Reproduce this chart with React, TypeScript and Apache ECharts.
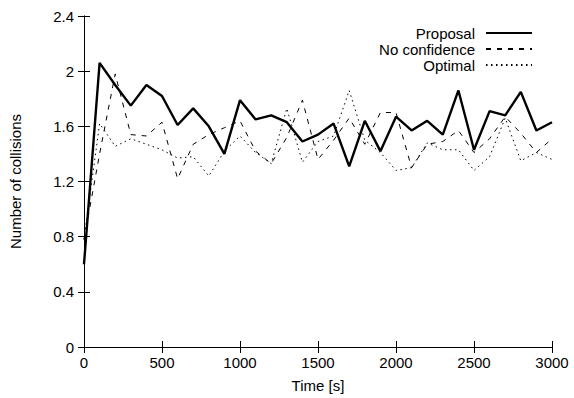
import React, { useEffect, useRef } from "react";
import * as echarts from "echarts";

const times = [0, 100, 200, 300, 400, 500, 600, 700, 800, 900, 1000, 1100, 1200, 1300, 1400, 1500, 1600, 1700, 1800, 1900, 2000, 2100, 2200, 2300, 2400, 2500, 2600, 2700, 2800, 2900, 3000];
const proposal = [0.6, 2.06, 1.9, 1.75, 1.9, 1.82, 1.61, 1.73, 1.6, 1.4, 1.79, 1.65, 1.68, 1.63, 1.49, 1.54, 1.62, 1.31, 1.64, 1.42, 1.67, 1.57, 1.64, 1.54, 1.86, 1.43, 1.71, 1.68, 1.85, 1.57, 1.63];
const noConfidence = [0.78, 1.4, 1.98, 1.54, 1.53, 1.63, 1.22, 1.47, 1.54, 1.59, 1.64, 1.42, 1.33, 1.52, 1.79, 1.36, 1.5, 1.66, 1.47, 1.7, 1.7, 1.3, 1.47, 1.49, 1.57, 1.41, 1.51, 1.67, 1.55, 1.41, 1.51];
const optimal = [0.78, 1.62, 1.455, 1.51, 1.47, 1.43, 1.37, 1.38, 1.24, 1.42, 1.53, 1.41, 1.33, 1.73, 1.34, 1.49, 1.53, 1.86, 1.5, 1.41, 1.28, 1.3, 1.48, 1.43, 1.43, 1.28, 1.38, 1.66, 1.35, 1.41, 1.36];
const seriesNames = ["Proposal", "No confidence", "Optimal"];

const FONT = "'Liberation Sans', Arial, sans-serif";
const FS = 15;

export default function App() {
  const ref = useRef<HTMLDivElement>(null);
  useEffect(() => {
    if (!ref.current) return;
    const chart = echarts.init(ref.current, null, { renderer: "svg" });
    const pairs = (vals: number[]) => times.map((t, i) => [t, vals[i]]);
    const axisCommon = {
      axisLine: { show: true, lineStyle: { color: "#000", width: 1 } },
      axisTick: { show: true, inside: true, length: 6, lineStyle: { color: "#000", width: 1 } },
      splitLine: { show: false },
    };
    chart.setOption({
      animation: false,
      textStyle: { fontFamily: FONT },
      grid: { left: 81, right: 22, top: 16, bottom: 46, containLabel: false },
      legend: {
        orient: "vertical",
        right: 41,
        top: 25,
        align: "right",
        itemWidth: 46,
        itemHeight: 10,
        itemGap: 0,
        padding: 0,
        itemStyle: { opacity: 0, borderWidth: 0 },
        textStyle: { fontFamily: FONT, fontSize: FS, color: "#000", lineHeight: 16, padding: [0, 6, 0, 0] },
        data: seriesNames,
      },
      xAxis: [
        {
          type: "value",
          min: 0,
          max: 3000,
          interval: 500,
          position: "bottom",
          name: "Time [s]",
          nameLocation: "middle",
          nameGap: 31,
          nameTextStyle: { fontFamily: FONT, fontSize: FS, color: "#000" },
          axisLabel: { fontFamily: FONT, fontSize: FS, color: "#000", margin: 8, formatter: (v: number) => String(v) },
          ...axisCommon,
        },
        {
          type: "value",
          min: 0,
          max: 3000,
          interval: 500,
          position: "top",
          axisLabel: { show: false },
          ...axisCommon,
        },
      ],
      yAxis: [
        {
          type: "value",
          min: 0,
          max: 2.4,
          interval: 0.4,
          position: "left",
          name: "Number of collisions",
          nameLocation: "middle",
          nameGap: 61,
          nameTextStyle: { fontFamily: FONT, fontSize: FS, color: "#000" },
          axisLabel: { fontFamily: FONT, fontSize: FS, color: "#000", margin: 10 },
          ...axisCommon,
        },
        {
          type: "value",
          min: 0,
          max: 2.4,
          interval: 0.4,
          position: "right",
          axisLabel: { show: false },
          ...axisCommon,
        },
      ],
      series: [
        {
          name: seriesNames[0],
          type: "line",
          data: pairs(proposal),
          symbol: "none",
          lineStyle: { color: "#000", width: 2.4, type: "solid" },
          itemStyle: { color: "#000" },
          z: 3,
        },
        {
          name: seriesNames[1],
          type: "line",
          data: pairs(noConfidence),
          symbol: "none",
          lineStyle: { color: "#000", width: 1, type: [5, 6] },
          itemStyle: { color: "#000" },
          z: 2,
        },
        {
          name: seriesNames[2],
          type: "line",
          data: pairs(optimal),
          symbol: "none",
          lineStyle: { color: "#000", width: 1, type: [1.5, 3.5] },
          itemStyle: { color: "#000" },
          z: 2,
        },
      ],
    });
    return () => chart.dispose();
  }, []);
  return <div ref={ref} style={{ width: 574, height: 398, position: "absolute", left: 0, top: 0, background: "#fff" }} />;
}
